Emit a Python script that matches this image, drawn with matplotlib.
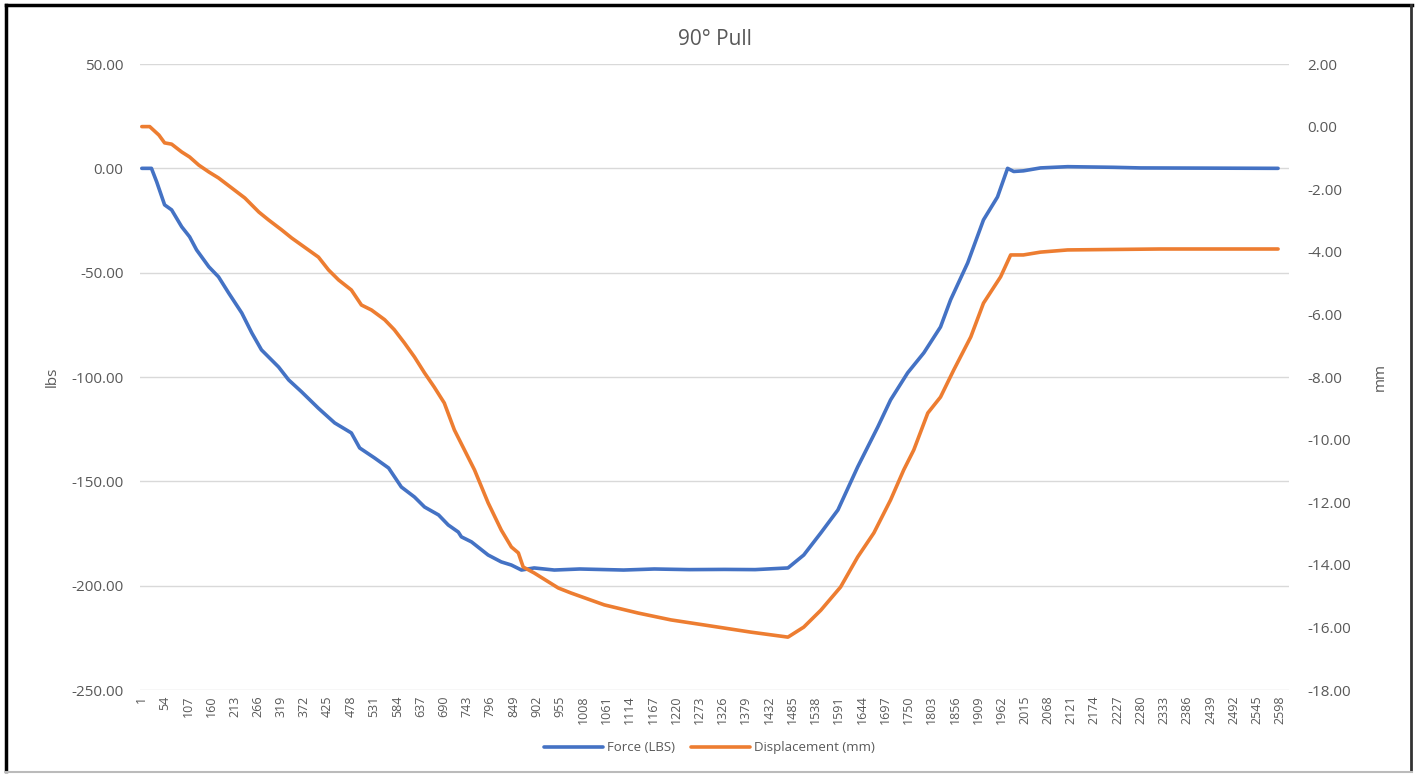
import matplotlib
matplotlib.use("Agg")
import matplotlib.pyplot as plt
from matplotlib.lines import Line2D

plt.rcParams["font.family"] = ["Open Sans", "DejaVu Sans"]

# sample index (Excel category) and readings
force_x = [1, 23, 35, 53, 69, 92, 110, 126, 154, 176, 199, 229, 252, 274, 313,
           336, 365, 404, 441, 479, 498, 532, 564, 593, 623, 646, 678, 700, 723,
           730, 753, 791, 821, 844, 867, 896, 942, 1000, 1100, 1170, 1250, 1330,
           1400, 1475, 1511, 1550, 1589, 1634, 1680, 1709, 1748, 1785, 1823,
           1846, 1885, 1921, 1953, 1976, 1990, 2012, 2051, 2113, 2217, 2279, 2593]
force_lbs = [0, 0, -6.5, -17.5, -19.9, -28.0, -32.8, -39.1, -47.2, -52.0, -59.7,
             -69.3, -78.9, -87.0, -95.2, -101.4, -107.0, -115.0, -122.0, -126.8,
             -134.0, -138.8, -143.6, -152.7, -157.5, -162.3, -166.1, -170.9,
             -174.3, -176.6, -179.0, -185.3, -188.6, -190.1, -192.5, -191.5,
             -192.5, -192.0, -192.5, -192.0, -192.3, -192.2, -192.3, -191.5,
             -185.3, -174.7, -163.7, -143.1, -123.9, -111.0, -98.0, -88.4, -76.0,
             -63.0, -45.3, -24.7, -13.7, 0, -1.5, -1.2, 0.2, 0.8, 0.5, 0.2, 0]

disp_x = [1, 19, 40, 53, 69, 92, 110, 131, 154, 176, 206, 236, 268, 290, 320,
          343, 372, 404, 427, 450, 479, 502, 525, 555, 577, 600, 623, 646, 668,
          691, 714, 737, 760, 791, 821, 844, 860, 871, 896, 951, 980, 1056, 1133,
          1208, 1283, 1390, 1475, 1511, 1550, 1595, 1634, 1671, 1709, 1739, 1762,
          1794, 1823, 1853, 1892, 1921, 1960, 1983, 2012, 2051, 2113, 2324, 2593]
disp_mm = [0, 0, -0.27, -0.52, -0.56, -0.81, -0.97, -1.23, -1.45, -1.64, -1.96,
           -2.28, -2.73, -2.98, -3.30, -3.56, -3.85, -4.17, -4.58, -4.90, -5.22,
           -5.70, -5.86, -6.17, -6.49, -6.91, -7.36, -7.87, -8.32, -8.83, -9.69,
           -10.33, -10.97, -12.02, -12.89, -13.43, -13.62, -14.07, -14.26, -14.74,
           -14.90, -15.28, -15.54, -15.76, -15.92, -16.15, -16.31, -15.99, -15.45,
           -14.71, -13.75, -12.98, -11.93, -10.97, -10.33, -9.15, -8.64, -7.78,
           -6.72, -5.64, -4.80, -4.10, -4.10, -4.01, -3.94, -3.91, -3.91]

x_ticks = list(range(1, 2599, 53))
left_ticks = [50, 0, -50, -100, -150, -200, -250]
right_ticks = [2, 0, -2, -4, -6, -8, -10, -12, -14, -16, -18]

blue = "#4472C4"
orange = "#ED7D31"
grey = "#595959"

fig = plt.figure(figsize=(14.19, 7.74), dpi=100)
ax = fig.add_axes([0.0987, 0.1085, 0.8097, 0.8088])
ax2 = ax.twinx()

l1, = ax.plot(force_x, force_lbs, color=blue, lw=2.6, solid_capstyle="round",
              label="Force (LBS)")
l2, = ax2.plot(disp_x, disp_mm, color=orange, lw=2.6, solid_capstyle="round",
               label="Displacement (mm)")

ax.set_xlim(-3, 2618)
ax.set_ylim(-250, 50)
ax2.set_ylim(-18, 2)
ax.set_yticks(left_ticks)
ax.set_yticklabels([f"{v:.2f}" for v in left_ticks])
ax2.set_yticks(right_ticks)
ax2.set_yticklabels([f"{v:.2f}" for v in right_ticks])
ax.set_xticks(x_ticks)
ax.set_xticklabels([str(v) for v in x_ticks], rotation=90)

ax.grid(axis="y", color="#D9D9D9", lw=1)
ax.set_axisbelow(True)
for a in (ax, ax2):
    for s in a.spines.values():
        s.set_visible(False)
    a.tick_params(length=0, colors=grey, labelsize=11)
ax.tick_params(axis="y", pad=12)
ax2.tick_params(axis="y", pad=13)
ax.tick_params(axis="x", labelsize=9, pad=4)

ax.set_ylabel("lbs", color=grey, fontsize=11, labelpad=8)
ax2.set_ylabel("mm", color=grey, fontsize=11, labelpad=16)
ax.set_title("90° Pull", color=grey, fontsize=15, pad=14)

fig.legend(handles=[l1, l2], loc="center", bbox_to_anchor=(0.5, 0.034), ncol=2,
           frameon=False, fontsize=9.5, labelcolor=grey, handlelength=4.5,
           columnspacing=1.2, handletextpad=0.3)

# screenshot frame
fig.add_artist(Line2D([0.0045, 0.0045], [0.004, 0.993], color="black", lw=2.5,
                      transform=fig.transFigure))
fig.add_artist(Line2D([0.0045, 0.995], [0.993, 0.993], color="black", lw=2.5,
                      transform=fig.transFigure))
fig.add_artist(Line2D([0.9945, 0.9945], [0.004, 0.993], color="#333333", lw=2,
                      transform=fig.transFigure))
fig.add_artist(Line2D([0.0045, 0.995], [0.003, 0.003], color="#BBBBBB", lw=1.5,
                      transform=fig.transFigure))

fig.savefig("out.png", dpi=100)
